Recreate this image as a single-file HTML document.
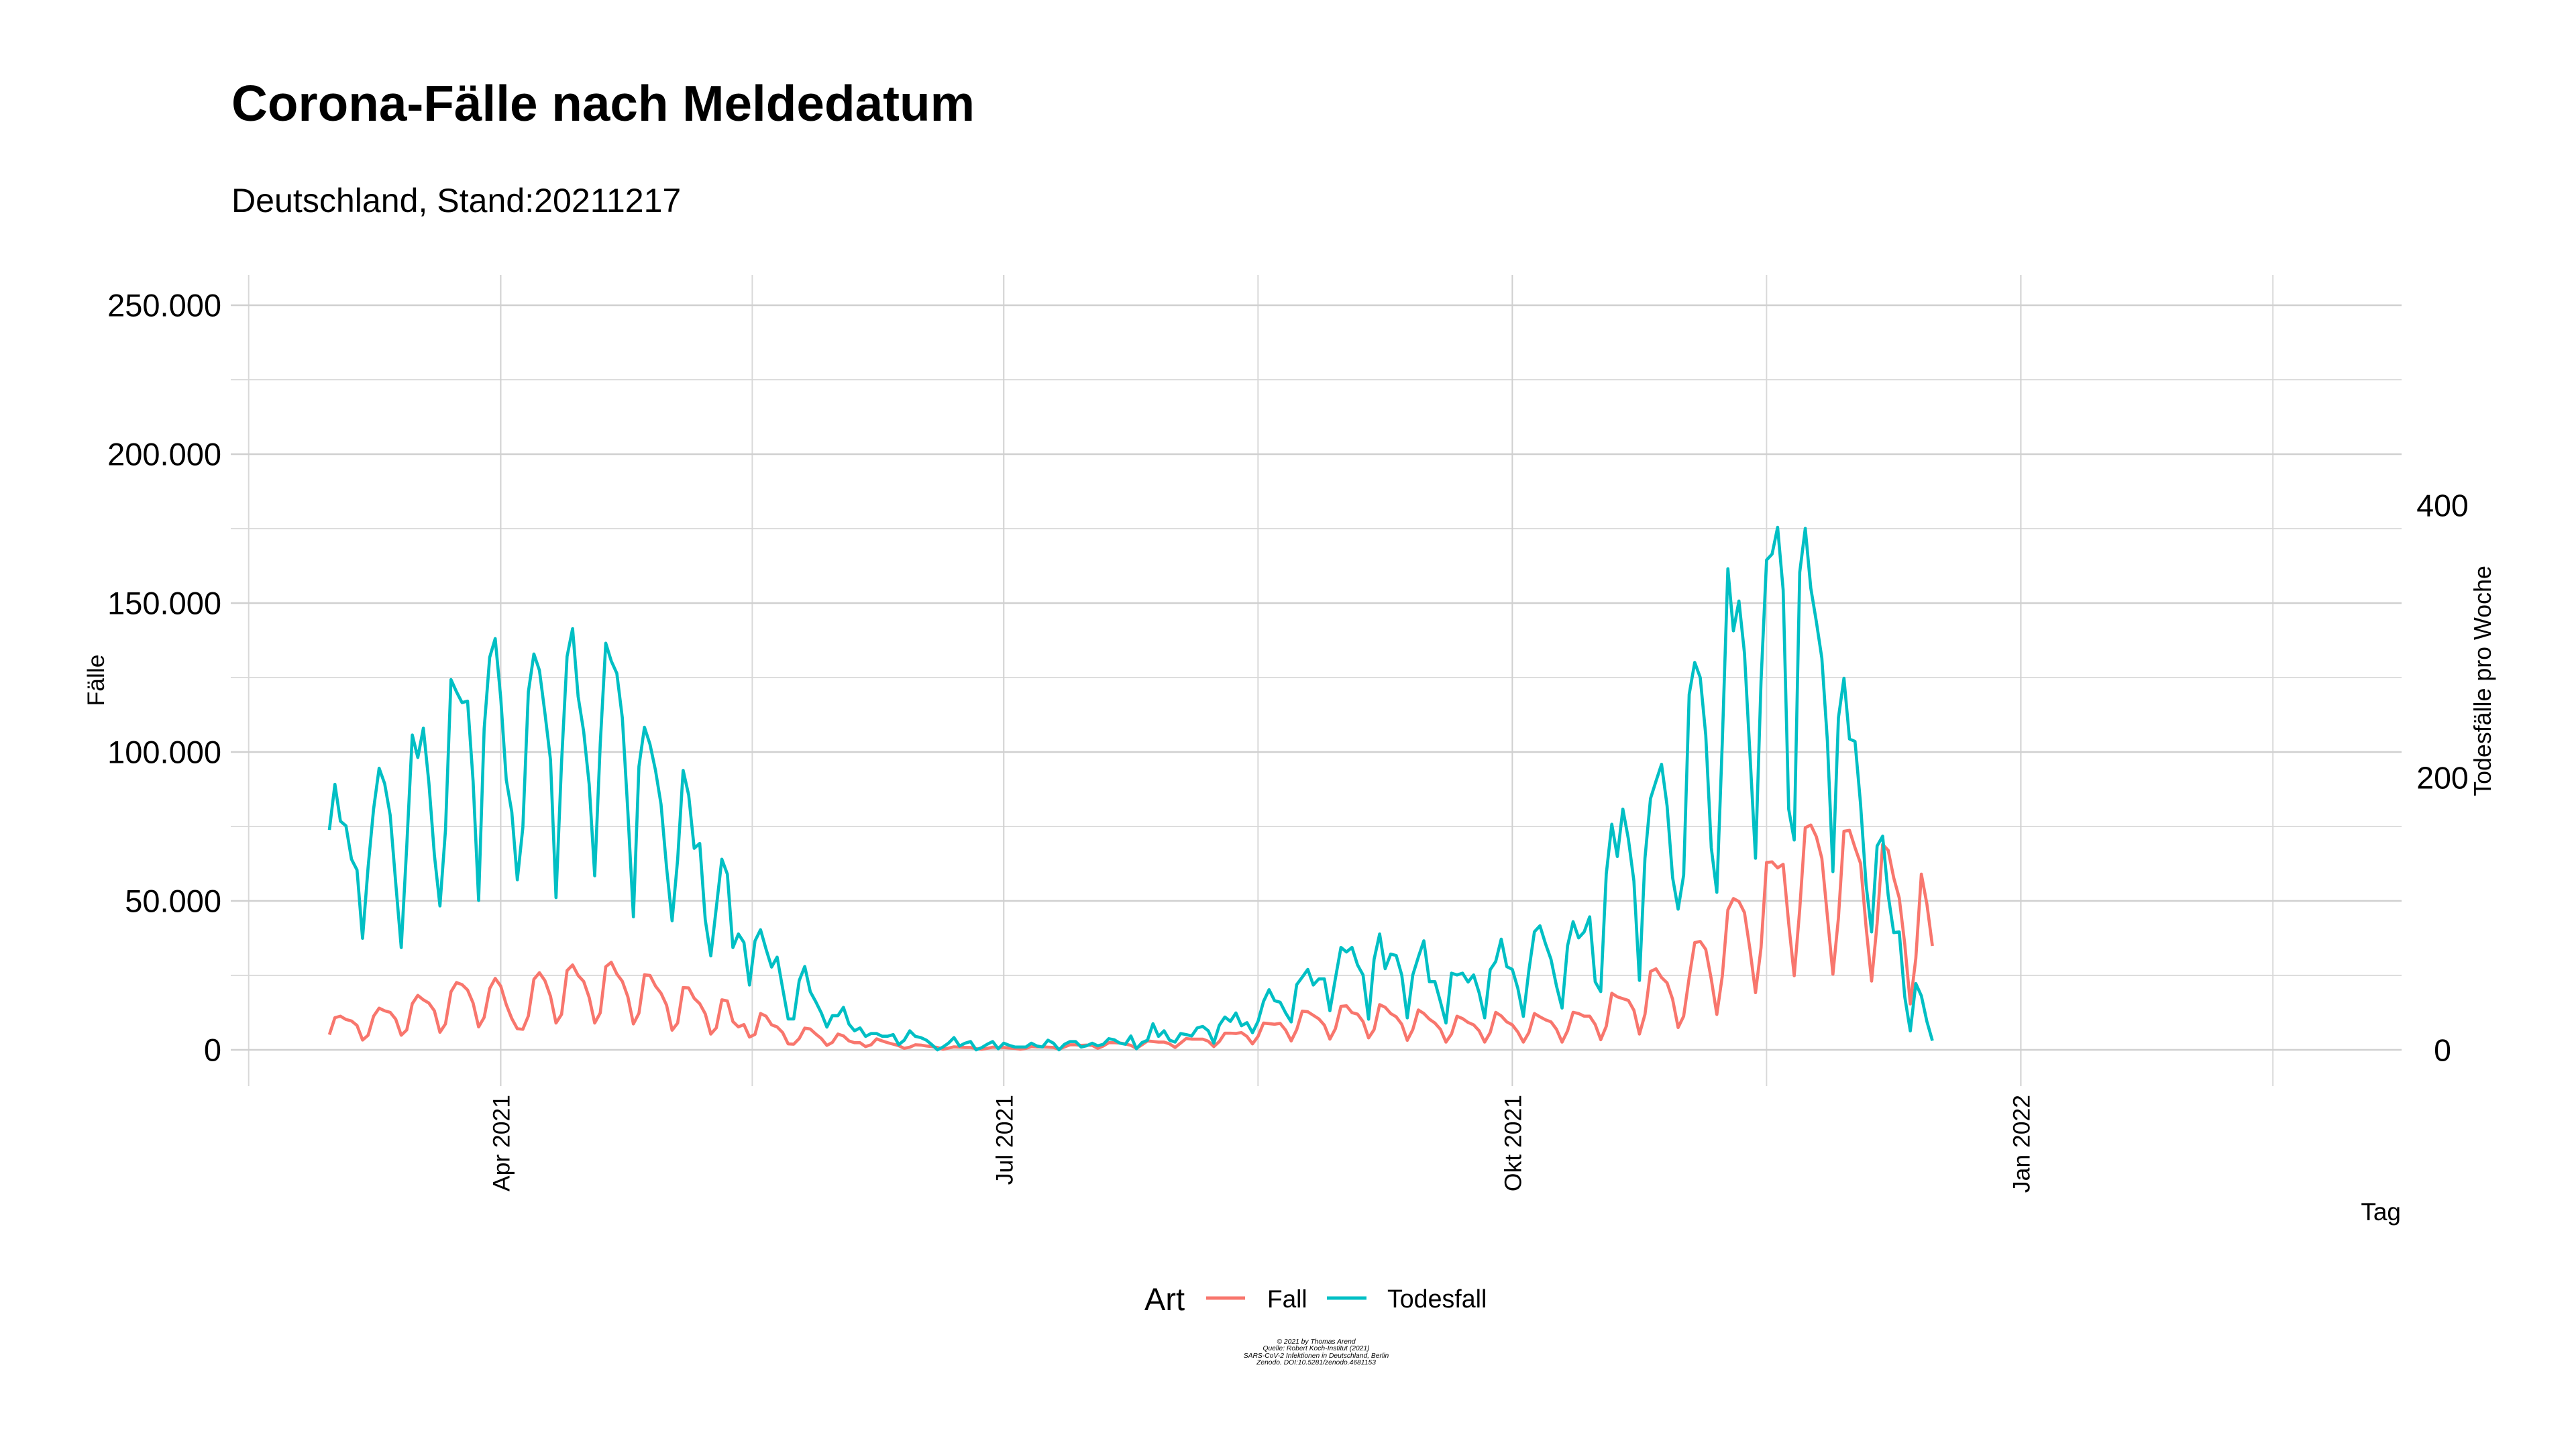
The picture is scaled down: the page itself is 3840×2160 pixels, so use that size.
<!DOCTYPE html>
<html lang="de">
<head>
<meta charset="utf-8">
<title>Corona-Fälle nach Meldedatum</title>
<style>
html,body{margin:0;padding:0;background:#fff;}
body{width:3840px;height:2160px;overflow:hidden;}
svg{display:block;}
text{font-family:"Liberation Sans",Arial,sans-serif;fill:#000;}
</style>
</head>
<body>
<svg id="chart" xmlns="http://www.w3.org/2000/svg" width="3840" height="2160" viewBox="0 0 3840 2160">
  <rect width="3840" height="2160" fill="#fff"/>
  <g id="grid"></g>
  <g id="series"></g>
  <g id="ticks"></g>
  <text x="345" y="180" font-size="74.7" font-weight="700">Corona-Fälle nach Meldedatum</text>
  <text x="345" y="316" font-size="50.1">Deutschland, Stand:20211217</text>
  <text transform="translate(155,1014) rotate(-90)" text-anchor="middle" font-size="35.5">Fälle</text>
  <text transform="translate(3713,1015) rotate(-90)" text-anchor="middle" font-size="35.8">Todesfälle pro Woche</text>
  <text x="3579" y="1819" text-anchor="end" font-size="37">Tag</text>
  <g>
    <text x="1706" y="1953" font-size="47">Art</text>
    <line x1="1798" x2="1856" y1="1935" y2="1935" stroke="#F8766D" stroke-width="5"/>
    <text x="1889" y="1949" font-size="37">Fall</text>
    <line x1="1978" x2="2037" y1="1935" y2="1935" stroke="#00BFC4" stroke-width="5"/>
    <text x="2068" y="1949" font-size="37.6">Todesfall</text>
  </g>
  <g font-size="10.3" font-style="italic" text-anchor="middle">
    <text x="1962" y="2003">© 2021 by Thomas Arend</text>
    <text x="1962" y="2013">Quelle: Robert Koch-Institut (2021)</text>
    <text x="1962" y="2024">SARS-CoV-2 Infektionen in Deutschland, Berlin</text>
    <text x="1962" y="2034">Zenodo. DOI:10.5281/zenodo.4681153</text>
  </g>
</svg>
<script>
// Daily values starting 2021-03-01
const casesThousands = [
5.1,10.8,11.3,10.2,9.7,8.2,3.3,4.9,11.3,14.0,13.1,12.6,10.3,4.9,6.7,15.5,18.3,16.8,15.7,13.1,
5.9,8.7,19.5,22.6,21.9,20.1,15.7,7.7,10.9,20.6,24.0,21.4,15.2,10.5,7.1,6.9,11.4,23.7,25.9,23.2,
18.0,9.0,11.9,26.6,28.5,25.0,23.0,17.6,9.0,12.4,27.9,29.4,25.5,23.0,17.8,8.7,12.3,25.2,25.0,21.4,
19.0,15.0,6.6,9.0,20.9,20.8,17.3,15.5,12.1,5.3,7.4,16.8,16.4,9.5,7.7,8.5,4.3,5.2,12.2,11.3,
8.4,7.7,5.8,2.0,1.9,3.8,7.3,7.0,5.3,3.8,1.5,2.5,5.3,4.7,3.0,2.4,2.4,1.1,1.7,3.7,
3.0,2.4,1.9,1.4,0.5,0.9,1.7,1.6,1.3,1.1,0.8,0.2,0.6,1.0,0.9,0.8,0.8,0.4,0.2,0.5,
0.9,0.8,0.8,0.6,0.5,0.2,0.5,1.1,1.0,1.0,0.9,0.8,0.2,1.0,1.7,1.7,1.5,1.6,1.5,0.5,
1.3,2.4,2.4,2.3,2.0,1.5,0.5,1.7,3.0,2.8,2.6,2.6,2.0,0.8,2.3,3.8,3.6,3.6,3.6,2.9,
1.1,2.8,5.6,5.6,5.5,5.8,4.5,2.0,4.5,9.0,8.8,8.6,8.9,6.6,3.0,6.8,13.0,12.8,11.6,10.4,
8.3,3.6,7.1,14.6,14.8,12.5,12.0,9.5,4.0,6.8,15.2,14.3,12.2,11.1,8.6,3.2,6.8,13.4,12.2,10.3,
9.0,6.9,2.6,5.3,11.3,10.5,9.2,8.4,6.4,2.6,5.8,12.6,11.4,9.4,8.4,6.0,2.6,5.8,12.2,11.1,
10.1,9.4,6.9,2.6,6.4,12.6,12.2,11.3,11.3,8.5,3.4,7.9,19.0,17.8,17.2,16.6,13.3,5.3,11.9,26.3,
27.2,24.3,22.5,17.0,7.5,11.3,24.3,36.0,36.4,33.7,23.7,11.9,24.9,47.0,50.8,49.8,46.1,33.7,19.2,34.3,
62.9,63.1,61.1,62.3,42.5,24.9,47.2,74.6,75.5,71.6,64.3,44.9,25.4,44.3,73.4,73.7,67.9,62.6,41.3,23.1,
42.5,69.0,67.0,57.8,51.0,35.5,15.4,30.7,59.0,49.0,34.9
];
const deaths = [
161.5,195,167.9,164.5,140,132.1,81.9,133.9,176.9,206.8,195.5,172.4,122.6,75.1,149.8,231.2,214.7,236.2,196.2,143,
105.7,161.1,271.9,262.9,255,256.1,197.3,109.7,235.7,288.2,302,258.4,198.4,174.7,124.9,163.3,262.9,290.7,278.7,247.1,
213.1,111.8,210.9,288.9,309.3,259.5,233.9,195,127.8,224.4,298.6,285.5,276.5,243.7,174.7,97.7,208.1,236.9,224.4,205.2,
180.3,133.9,94.8,139.6,205.2,187.1,148,151.6,95.5,69,104.5,140,129,75.1,85.1,78.8,47.6,80,88.2,73.9,
60.8,68.1,45.2,22.7,22.7,50.9,61.2,42.7,35.3,27.1,16.7,25.1,25.1,31.2,18.9,14,16.1,9.9,12,12,
10,10,11.2,3.8,7.1,14,9.9,9,7.1,3.8,0,2.1,4.9,9,2.8,4.9,6.1,0,1.6,4.1,
6.1,0.8,4.9,3.3,2.1,2.1,2.1,4.9,2.8,2.1,7.1,4.9,0,4.1,6.1,6.1,2.1,3,4.9,3,
4.1,8.2,7.4,4.9,4.1,10.2,0.8,5.3,7.1,19.2,9.9,14,7.1,5.7,12,11.2,10.2,16.1,17.2,14,
4.9,18.1,24.1,20.9,27.1,17.7,20,12.6,20.9,35.6,44.2,36.1,35,27.1,20.5,47.9,53.4,59.1,47.6,52.1,
52.1,28.7,52.5,75.2,71.9,75.2,62.4,55,22.5,66.5,85.1,59.6,70.3,69.3,55,23.5,55,68.1,80.1,50.1,
50.1,35.3,19.7,56.3,55,56.3,49.8,55,41.9,23.5,58.8,64.9,81.3,61.1,59.1,45.2,24.6,58.3,86.7,91.1,
78,66.5,46.8,30.7,76.4,94.1,82.2,86.6,97.7,50,42.8,129.1,165.7,142,176.8,154.9,123.9,51,140.7,184.5,
197.4,209.7,179.3,126.5,103.3,128.3,261,284.5,273.4,230.9,148.4,115.7,227,353.3,307.7,329.6,291.4,216.7,140.7,270.8,
359.7,364.1,383.7,337.8,176.8,154.1,350.7,382.9,339.1,314.6,287.6,227,130.9,243.8,272.9,228.3,226.5,180.6,121.4,86.6,
149.7,156.9,113.6,86.1,86.6,38.9,13.9,48.7,39.7,20.9,6.7
];
const yTicksMajor = [0,50,100,150,200,250];
const yTicksMinor = [25,75,125,175,225];
const yTickLabels = ["0","50.000","100.000","150.000","200.000","250.000"];
const yRightTicks = [0,200,400];
const xTickDays = [31,122,214,306];
const xTickLabels = ["Apr 2021","Jul 2021","Okt 2021","Jan 2022"];
const xMinorDays = [-14.6,76.5,168,260,351.6];

const SVGNS = "http://www.w3.org/2000/svg";
function xAxis(day){ return 491 + 8.24*day; }
function yLeft(thousands){ return 1565 - 4.44*thousands; }
function yRight(value){ return 1565 - 2.03*value; }

function line(parent,x1,y1,x2,y2,w,color){
  const el = document.createElementNS(SVGNS,"line");
  el.setAttribute("x1",x1);
  el.setAttribute("y1",y1);
  el.setAttribute("x2",x2);
  el.setAttribute("y2",y2);
  el.setAttribute("stroke",color);
  el.setAttribute("stroke-width",w);
  parent.appendChild(el);
  return el;
}
function label(parent,str,x,y,size,anchor,transform){
  const el = document.createElementNS(SVGNS,"text");
  if(transform){ el.setAttribute("transform",transform); }
  else { el.setAttribute("x",x); el.setAttribute("y",y); }
  el.setAttribute("font-size",size);
  el.setAttribute("text-anchor",anchor);
  el.textContent = str;
  parent.appendChild(el);
  return el;
}
const grid = document.getElementById("grid");
const ticks = document.getElementById("ticks");
const series = document.getElementById("series");
const MINOR = "#d8d8d8", MAJOR = "#d0d0d0";

yTicksMinor.forEach(function(v){
  const el = line(grid,344,yLeft(v),3580,yLeft(v),1.7,MINOR);
  
  
});
xMinorDays.forEach(function(d){
  const el = line(grid,xAxis(d),410,xAxis(d),1619,1.9,MINOR);
  
  
});
yTicksMajor.forEach(function(v,i){
  const el = line(grid,344,yLeft(v),3580,yLeft(v),2.4,MAJOR);
  
  
  const t = label(ticks,yTickLabels[i],330,yLeft(v)+16.5,47,"end");
  
  
});
xTickDays.forEach(function(d,i){
  const el = line(grid,xAxis(d),410,xAxis(d),1619,2,MAJOR);
  
  
  const t = label(ticks,xTickLabels[i],0,0,35.5,"end","translate("+(xAxis(d)+13)+",1632) rotate(-90)");
  
  
});
yRightTicks.forEach(function(v){
  const t = label(ticks,String(v),3641,yRight(v)+16.5,46.5,"middle");
  
  
});

function pathFrom(values,yFn){
  return values.map(function(v,i){
    return (i?"L":"M")+xAxis(i).toFixed(2)+" "+yFn(v).toFixed(2);
  }).join("");
}
const caseLine = document.createElementNS(SVGNS,"path");
caseLine.setAttribute("d",pathFrom(casesThousands,yLeft));
caseLine.setAttribute("fill","none");
caseLine.setAttribute("stroke","#F8766D");
caseLine.setAttribute("stroke-width","4.6");
caseLine.setAttribute("stroke-linejoin","round");


series.appendChild(caseLine);

const deathLine = document.createElementNS(SVGNS,"path");
deathLine.setAttribute("d",pathFrom(deaths,yRight));
deathLine.setAttribute("fill","none");
deathLine.setAttribute("stroke","#00BFC4");
deathLine.setAttribute("stroke-width","4.6");
deathLine.setAttribute("stroke-linejoin","round");


series.appendChild(deathLine);
</script>
</body>
</html>
